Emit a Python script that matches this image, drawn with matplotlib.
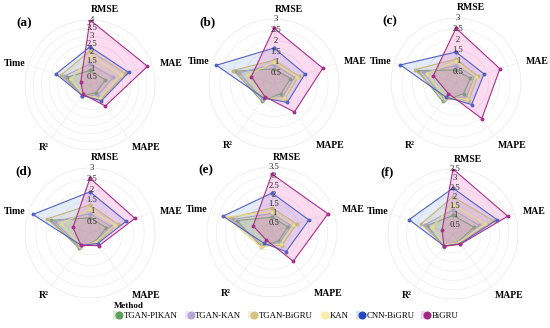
import numpy as np
import matplotlib
matplotlib.use("Agg")
import matplotlib.pyplot as plt
import matplotlib.transforms as mtransforms
from matplotlib.patches import Patch
from matplotlib.lines import Line2D
from matplotlib.legend_handler import HandlerTuple

plt.rcParams["font.family"] = ["Liberation Serif", "DejaVu Serif"]

metrics = ["RMSE", "MAE", "MAPE", "R²", "Time"]
methods = ["TGAN-PIKAN", "TGAN-KAN", "TGAN-BiGRU", "KAN", "CNN-BiGRU", "BiGRU"]
panels = ["(a)", "(b)", "(c)", "(d)", "(e)", "(f)"]
r_max = [4.0, 3.0, 3.0, 3.0, 3.5, 3.5]

# rows = methods, columns = RMSE, MAE, MAPE, R², Time
vals_a = [[0.90, 1.00, 0.60, 0.85, 1.50],
          [1.30, 1.50, 0.80, 0.80, 1.70],
          [2.10, 2.30, 1.10, 0.80, 1.90],
          [1.80, 2.00, 1.00, 0.75, 1.20],
          [2.35, 2.50, 1.20, 0.80, 2.20],
          [4.00, 3.72, 1.60, 0.70, 0.60]]
vals_b = [[0.70, 0.80, 0.55, 0.97, 1.90],
          [0.90, 1.00, 0.70, 0.90, 1.70],
          [1.10, 1.20, 0.85, 0.85, 2.00],
          [1.00, 1.10, 0.80, 0.80, 1.30],
          [1.66, 1.50, 1.05, 0.80, 2.80],
          [2.58, 2.37, 1.60, 0.72, 1.10]]
vals_c = [[0.60, 0.70, 0.60, 1.05, 1.85],
          [0.80, 0.90, 0.80, 0.95, 1.60],
          [1.10, 1.05, 1.00, 0.90, 2.00],
          [1.00, 0.95, 0.90, 0.85, 1.40],
          [1.43, 1.36, 1.23, 0.80, 2.70],
          [2.53, 2.13, 2.03, 0.60, 1.10]]
vals_d = [[0.70, 0.80, 0.45, 0.87, 1.90],
          [0.90, 1.00, 0.50, 0.80, 1.70],
          [1.30, 1.35, 0.55, 0.80, 2.10],
          [1.10, 1.20, 0.50, 0.75, 1.40],
          [1.90, 1.75, 0.60, 0.70, 2.77],
          [2.53, 2.18, 0.72, 0.70, 0.83]]
vals_e = [[0.80, 0.90, 0.60, 0.97, 2.00],
          [1.00, 1.10, 0.70, 0.90, 2.20],
          [1.30, 1.40, 0.90, 0.90, 2.40],
          [1.10, 1.20, 0.80, 1.00, 2.60],
          [2.10, 2.09, 1.30, 0.75, 2.77],
          [3.12, 3.17, 1.95, 0.53, 1.07]]
vals_f = [[1.00, 1.20, 0.50, 0.85, 1.47],
          [1.30, 1.50, 0.55, 0.80, 1.60],
          [2.00, 2.30, 0.60, 0.80, 1.80],
          [1.60, 1.80, 0.55, 0.75, 1.20],
          [2.47, 2.49, 0.65, 0.80, 2.49],
          [3.50, 3.10, 0.68, 0.82, 0.62]]
all_vals = [vals_a, vals_b, vals_c, vals_d, vals_e, vals_f]

line_colors = ["#849c84", "#aaa2c4", "#c6b47a", "#e4da90", "#5262c2", "#a8308c"]
fill_colors = ["#6fa86f", "#b3a2d6", "#d6bd6a", "#f3e67a", "#6b93e0", "#ec3aae"]
legend_colors = ["#5aa05a", "#b8a8d8", "#d4c27e", "#f7f0a4", "#2448c0", "#9a2a80"]

W, H = 550, 328
fig = plt.figure(figsize=(W / 100, H / 100), dpi=100)

R_PX = 65
centers = [(90, 85), (274, 84), (456, 83), (90, 233), (272, 232), (453, 234)]

label_off = {"RMSE": (15, 75), "MAE": (81, 22), "MAPE": (56, -62),
             "R²": (-46, -62), "Time": (-75, 22)}

n = len(metrics)
angles = np.arange(n) * 2 * np.pi / n
ang_c = np.concatenate([angles, angles[:1]])

for k in range(6):
    cx, cy = centers[k]
    left = (cx - R_PX) / W
    bottom = (H - cy - R_PX) / H
    ax = fig.add_axes([left, bottom, 2 * R_PX / W, 2 * R_PX / H], projection="polar")
    ax.set_theta_offset(np.pi / 2)
    ax.set_theta_direction(-1)
    ax.set_facecolor("none")
    rm = r_max[k]
    ticks = np.arange(0.5, rm + 0.01, 0.5)
    ax.set_ylim(0, rm)
    ax.set_yticks(ticks)
    ax.set_yticklabels([])
    ax.set_xticks(angles)
    ax.set_xticklabels([])
    ax.tick_params(length=0)
    ax.grid(color="#eeeeee", lw=0.5)
    ax.spines["polar"].set_color("#eeeeee")
    ax.spines["polar"].set_linewidth(0.5)

    for m, vals in enumerate(all_vals[k]):
        v = np.concatenate([vals, vals[:1]])
        ax.fill(ang_c, v, color=fill_colors[m], alpha=0.18, lw=0, zorder=2)
        ax.plot(ang_c, v, color=line_colors[m], lw=0.8, marker="o",
                markersize=1.8, zorder=3)

    tr = mtransforms.offset_copy(ax.transData, fig=fig, x=2, y=0, units="dots")
    for t in ticks:
        ax.text(0, t, f"{t:g}", transform=tr, ha="center", va="center",
                fontsize=6.2, color="#2a2a2a", zorder=5)

    for name in metrics:
        dx, dy = label_off[name]
        ax.text(0.5 + dx / (2 * R_PX), 0.5 + dy / (2 * R_PX), name,
                transform=ax.transAxes, ha="center", va="center",
                fontsize=7, fontweight="bold", clip_on=False)

    ax.text(0.5 - 66 / (2 * R_PX), 0.5 + 62 / (2 * R_PX), panels[k],
            transform=ax.transAxes, ha="center", va="center",
            fontsize=9.5, fontweight="bold", clip_on=False)

handles = []
for m in range(len(methods)):
    p = Patch(facecolor=fill_colors[m], alpha=0.25, edgecolor="none")
    l = Line2D([], [], marker="o", color=legend_colors[m], linestyle="none",
               markersize=4.8)
    handles.append((p, l))

leg = fig.legend(handles, methods, loc="center", bbox_to_anchor=(0.52, 0.052),
                 ncol=6, frameon=False, title="Method", alignment="left",
                 fontsize=6.3, handlelength=0.9, handleheight=0.9,
                 handletextpad=0.3, columnspacing=0.8, borderpad=0,
                 labelspacing=0.2,
                 handler_map={tuple: HandlerTuple(ndivide=None, pad=0)},
                 title_fontproperties={"weight": "bold", "size": 6.5,
                                       "family": "Liberation Serif"})
leg._legend_box.sep = 1

fig.savefig("out.png", dpi=100)
